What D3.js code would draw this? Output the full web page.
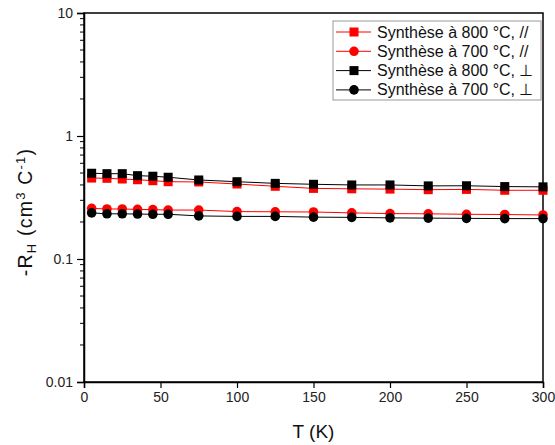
<!DOCTYPE html>
<html><head><meta charset="utf-8">
<script src="https://cdn.jsdelivr.net/npm/d3@7"></script>
<style>body{margin:0;background:#fff}svg{display:block;font-family:"Liberation Sans",Arial,sans-serif}</style>
</head><body><svg id="c" width="555" height="445"></svg>
<script>
const temps = [5,15,25,35,45,55,75,100,125,150,175,200,225,250,275,300];
const sq800Par = [0.455,0.453,0.447,0.441,0.433,0.425,0.423,0.407,0.39,0.375,0.372,0.37,0.366,0.368,0.362,0.362];
const ci700Par = [0.258,0.255,0.255,0.253,0.252,0.25,0.25,0.243,0.242,0.241,0.237,0.234,0.233,0.231,0.23,0.228];
const sq800Perp = [0.498,0.494,0.494,0.476,0.471,0.462,0.439,0.425,0.412,0.405,0.400,0.400,0.393,0.394,0.388,0.386];
const ci700Perp = [0.237,0.233,0.233,0.232,0.231,0.231,0.224,0.222,0.222,0.219,0.218,0.216,0.215,0.214,0.213,0.213];
const seriesNames = ["Synthèse à 800 °C, //","Synthèse à 700 °C, //","Synthèse à 800 °C, ⊥","Synthèse à 700 °C, ⊥"];
const xTicks = [0,50,100,150,200,250,300];
const yTicks = [0.01,0.1,1,10];
const yTickLabels = ["0.01","0.1","1","10"];

const series = [
  {name:seriesNames[0], vals:sq800Par, color:"#ff0000", shape:"square"},
  {name:seriesNames[1], vals:ci700Par, color:"#ff0000", shape:"circle"},
  {name:seriesNames[2], vals:sq800Perp, color:"#000000", shape:"square"},
  {name:seriesNames[3], vals:ci700Perp, color:"#000000", shape:"circle"}
];

const svg = d3.select("#c");
const L=84, R=543, T=13, B=382;
const x = d3.scaleLinear().domain([0,300]).range([L,R]);
const y = d3.scaleLog().domain([0.01,10]).range([B,T]);

svg.append("rect").attr("x",L).attr("y",T).attr("width",R-L).attr("height",B-T)
  .attr("fill","none").attr("stroke","#000").attr("stroke-width",1.5);

const xAx = svg.append("g").attr("transform",`translate(0,${B})`)
  .call(d3.axisBottom(x).tickValues(xTicks).tickSize(6).tickPadding(4).tickFormat(d3.format("d")));
xAx.select(".domain").attr("stroke-width",1.5);
xAx.selectAll(".tick line").attr("stroke-width",1.2);
xAx.selectAll("text").attr("font-size",14).attr("fill","#222").attr("font-family","Liberation Sans, Arial, sans-serif");

const yAx = svg.append("g").attr("transform",`translate(${L},0)`)
  .call(d3.axisLeft(y).tickValues(yTicks).tickSize(7).tickPadding(4).tickFormat((d,i)=>yTickLabels[i]));
yAx.select(".domain").attr("stroke-width",1.5);
yAx.selectAll(".tick line").attr("stroke-width",1.2);
yAx.selectAll("text").attr("font-size",14).attr("fill","#222").attr("font-family","Liberation Sans, Arial, sans-serif");

const minors = [];
[0.01,0.1,1].forEach(d=>{for(let k=2;k<=9;k++) minors.push(d*k);});
svg.append("g").selectAll("line").data(minors).join("line")
  .attr("x1",L).attr("x2",L-4).attr("y1",d=>y(d)).attr("y2",d=>y(d))
  .attr("stroke","#000").attr("stroke-width",1);

const line = d3.line().x((d,i)=>x(temps[i])).y(d=>y(d));
const plot = svg.append("g");
function marker(g, shape, cx, cy, color){
  if(shape==="square") g.append("rect").attr("x",cx-4.5).attr("y",cy-4.5).attr("width",9).attr("height",9).attr("fill",color);
  else g.append("circle").attr("cx",cx).attr("cy",cy).attr("r",4.8).attr("fill",color);
}
series.forEach(s=>{
  plot.append("path").datum(s.vals).attr("d",line).attr("fill","none").attr("stroke",s.color).attr("stroke-width",1);
});
series.forEach(s=>{
  s.vals.forEach((v,i)=>marker(plot, s.shape, x(temps[i]), y(v), s.color));
});

const lg = svg.append("g");
lg.append("rect").attr("x",333).attr("y",21).attr("width",208).attr("height",79)
  .attr("fill","#fff").attr("stroke","#999").attr("stroke-width",1);
series.forEach((s,i)=>{
  const cy = 32 + i*19.3;
  lg.append("line").attr("x1",336).attr("x2",371).attr("y1",cy).attr("y2",cy).attr("stroke",s.color).attr("stroke-width",1);
  marker(lg, s.shape, 354, cy, s.color);
  lg.append("text").attr("x",377).attr("y",cy+5.5).attr("font-size",16).attr("fill","#111").text(s.name);
});

svg.append("text").attr("x",(L+R)/2).attr("y",438).attr("text-anchor","middle").attr("font-size",19).attr("fill","#111").text("T (K)");
const yt = svg.append("text").attr("transform",`translate(32,212) rotate(-90)`).attr("text-anchor","middle")
  .attr("font-size",19.5).attr("letter-spacing",1.2).attr("fill","#111");
yt.append("tspan").text("-R");
yt.append("tspan").attr("font-size",13).attr("dy",4).text("H");
yt.append("tspan").attr("dy",-4).text(" (cm");
yt.append("tspan").attr("font-size",13).attr("dy",-7).text("3");
yt.append("tspan").attr("dy",7).text(" C");
yt.append("tspan").attr("font-size",13).attr("dy",-7).text("-1");
yt.append("tspan").attr("dy",7).text(")");
</script></body></html>
